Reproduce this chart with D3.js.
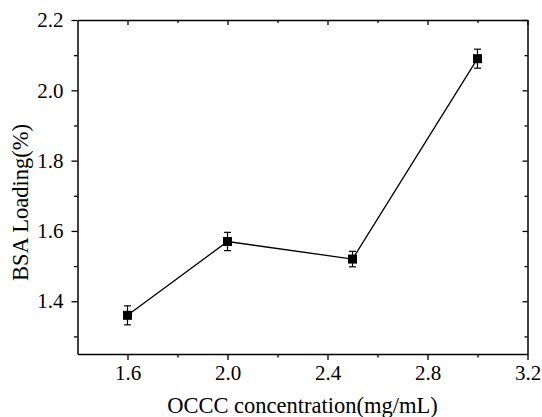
<!DOCTYPE html>
<html><head><meta charset="utf-8">
<script src="https://cdn.jsdelivr.net/npm/d3@7"></script>
<style>body{margin:0;background:#fff;} svg{display:block;} svg text{font-family:'Liberation Serif','Times New Roman',serif;}</style>
</head><body>
<svg id="c" width="542" height="417"></svg>
<script>
const concentration = [1.6, 2.0, 2.5, 3.0];
const loading = [1.36, 1.57, 1.52, 2.09];
const loadingErr = [0.027, 0.026, 0.022, 0.027];
const xTicks = [1.6, 2.0, 2.4, 2.8, 3.2];
const xMinor = [1.8, 2.2, 2.6, 3.0];
const yTicks = [1.4, 1.6, 1.8, 2.0, 2.2];
const yMinor = [1.3, 1.5, 1.7, 1.9, 2.1];
const xTitle = "OCCC concentration(mg/mL)";
const yTitle = "BSA Loading(%)";

const svg = d3.select("#c");
const L = 77.5, R = 527.5, T = 20, B = 354;
const x = d3.scaleLinear().domain([1.4, 3.2]).range([L, R]);
const y = d3.scaleLinear().domain([1.25, 2.2]).range([B, T]);
const font = "'Liberation Serif','Times New Roman',serif";

function styleAxis(g){
  g.attr("font-family", font);
  g.selectAll("path.domain").attr("stroke","#000").attr("stroke-width",1.5);
  g.selectAll(".tick line").attr("stroke","#000").attr("stroke-width",1.3);
  g.selectAll("text").attr("font-family",font).style("font-family",font).attr("font-size",21).attr("fill","#000");
}
function minor(g){ g.select(".domain").remove(); g.selectAll("line").attr("stroke","#000").attr("stroke-width",1.3); }
const fmt = d3.format(".1f");
// bottom
const gb = svg.append("g").attr("transform",`translate(0,${B})`)
  .call(d3.axisBottom(x).tickValues(xTicks).tickFormat(fmt).tickSize(6).tickSizeOuter(0).tickPadding(5));
styleAxis(gb);
svg.append("g").attr("transform",`translate(0,${B})`)
  .call(d3.axisBottom(x).tickValues(xMinor).tickFormat("").tickSize(3.5).tickSizeOuter(0)).call(minor);
// left
const gl = svg.append("g").attr("transform",`translate(${L},0)`)
  .call(d3.axisLeft(y).tickValues(yTicks).tickFormat(fmt).tickSize(6).tickSizeOuter(0).tickPadding(8));
styleAxis(gl);
svg.append("g").attr("transform",`translate(${L},0)`)
  .call(d3.axisLeft(y).tickValues(yMinor).tickFormat("").tickSize(3.5).tickSizeOuter(0)).call(minor);
// top (ticks inward)
const gt = svg.append("g").attr("transform",`translate(0,${T})`)
  .call(d3.axisBottom(x).tickValues(xTicks).tickFormat("").tickSize(5).tickSizeOuter(0));
styleAxis(gt);
svg.append("g").attr("transform",`translate(0,${T})`)
  .call(d3.axisBottom(x).tickValues(xMinor).tickFormat("").tickSize(3).tickSizeOuter(0)).call(minor);
// right (ticks inward)
const gr = svg.append("g").attr("transform",`translate(${R},0)`)
  .call(d3.axisLeft(y).tickValues(yTicks).tickFormat("").tickSize(5).tickSizeOuter(0));
styleAxis(gr);
svg.append("g").attr("transform",`translate(${R},0)`)
  .call(d3.axisLeft(y).tickValues(yMinor).tickFormat("").tickSize(3).tickSizeOuter(0)).call(minor);

const data = concentration.map((c,i)=>({c, v:loading[i], e:loadingErr[i]}));
// line
svg.append("path").datum(data)
  .attr("fill","none").attr("stroke","#000").attr("stroke-width",1.3)
  .attr("d", d3.line().x(d=>x(d.c)).y(d=>y(d.v)));
// error bars
const eb = svg.append("g").attr("stroke","#000").attr("stroke-width",1.2);
data.forEach(d=>{
  const cx = x(d.c), y1 = y(d.v + d.e), y2 = y(d.v - d.e);
  eb.append("line").attr("x1",cx).attr("x2",cx).attr("y1",y1).attr("y2",y2);
  eb.append("line").attr("x1",cx-3.5).attr("x2",cx+3.5).attr("y1",y1).attr("y2",y1);
  eb.append("line").attr("x1",cx-3.5).attr("x2",cx+3.5).attr("y1",y2).attr("y2",y2);
});
// markers
svg.append("g").selectAll("rect").data(data).join("rect")
  .attr("x",d=>x(d.c)-4.5).attr("y",d=>y(d.v)-4.5)
  .attr("width",9).attr("height",9).attr("fill","#000");

// titles
svg.append("text").attr("x",(L+R)/2).attr("y",413).attr("text-anchor","middle")
  .attr("font-family",font).attr("font-size",22.5).attr("fill","#000").text(xTitle);
svg.append("text").attr("transform",`translate(28,202.5) rotate(-90)`).attr("text-anchor","middle")
  .attr("font-family",font).attr("font-size",22.5).attr("fill","#000").text(yTitle);
</script>
</body></html>
